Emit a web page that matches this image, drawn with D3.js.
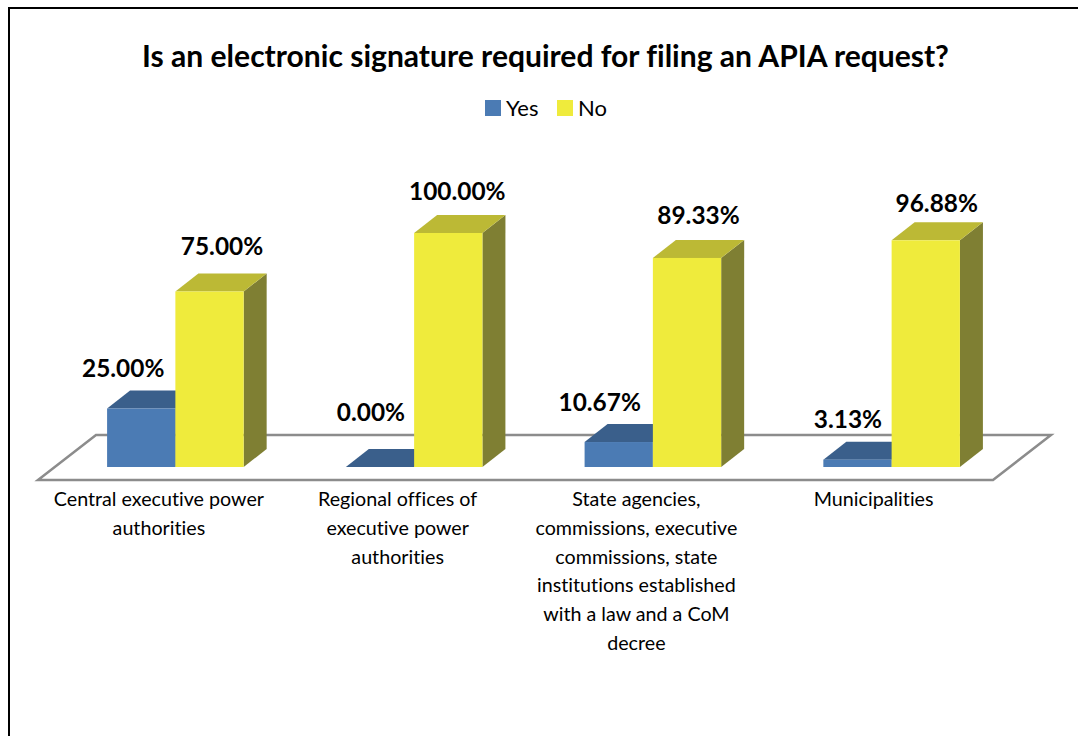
<!DOCTYPE html>
<html>
<head>
<meta charset="utf-8">
<script src="https://cdn.jsdelivr.net/npm/d3@7"></script>
<style>
    html, body { margin: 0; padding: 0; background: #fff; overflow: hidden; }
    text { font-family: Lato, "Open Sans", sans-serif; fill: #000; font-variant-ligatures: none; }
</style>
</head>
<body>
<div id="chart"></div>
<script>
var chartTitle = "Is an electronic signature required for filing an APIA request?";
var categories = ["Central executive power authorities", "Regional offices of executive power authorities", "State agencies, commissions, executive commissions, state institutions established with a law and a CoM decree", "Municipalities"];
var categoryLines = [
    ["Central executive power", "authorities"],
    ["Regional offices of", "executive power", "authorities"],
    ["State agencies,", "commissions, executive", "commissions, state", "institutions established", "with a law and a CoM", "decree"],
    ["Municipalities"]
];
var seriesNames = ["Yes", "No"];
var yesValues = [25.00, 0.00, 10.67, 3.13];
var noValues = [75.00, 100.00, 89.33, 96.88];

var width = 1078, height = 736;
var depthX = 23, depthY = 18;

var colors = {
    Yes: { front: "#4b7bb4", top: "#3a5f8b", side: "#2f4f75" },
    No: { front: "#efeb3c", top: "#bcb935", side: "#7f7f33" }
};

var svg = d3.select("#chart").append("svg")
    .attr("width", width)
    .attr("height", height);

// page border, runs off the right and bottom edge
svg.append("path")
    .attr("d", "M9,736V8H1078")
    .attr("fill", "none")
    .attr("stroke", "#000")
    .attr("stroke-width", 2);

svg.append("text")
    .attr("x", 545.5)
    .attr("y", 66.5)
    .attr("text-anchor", "middle")
    .style("font-size", "30.05px")
    .style("font-weight", 700)
    .text(chartTitle);

// legend
var legend = svg.append("g");
[485, 557].forEach(function(lx, i) {
    legend.append("rect")
        .attr("x", lx).attr("y", 100)
        .attr("width", 16).attr("height", 16)
        .attr("fill", colors[seriesNames[i]].front);
    legend.append("text")
        .attr("x", lx + 21).attr("y", 116)
        .style("font-size", "22px")
        .text(seriesNames[i]);
});

var x0 = d3.scaleBand()
    .domain(categories)
    .range([56, 1011])
    .paddingInner(0.428)
    .paddingOuter(0.214);

var x1 = d3.scaleBand()
    .domain(seriesNames)
    .range([0, x0.bandwidth()]);

var y = d3.scaleLinear()
    .domain([0, 100])
    .range([467, 233]);

// floor of the 3d plot
svg.append("path")
    .attr("d", "M38,480L993,480L1051,435L96,435Z")
    .attr("fill", "#fff")
    .attr("stroke", "#8c8c8c")
    .attr("stroke-width", 2.5)
    .attr("stroke-linejoin", "miter");

function drawBars(name, values) {
    var c = colors[name];
    var g = svg.append("g").selectAll("g")
        .data(values)
        .enter().append("g")
        .attr("transform", function(d, i) {
            return "translate(" + (x0(categories[i]) + x1(name)) + ",0)";
        });
    var w = x1.bandwidth();

    g.append("path")
        .attr("fill", c.side)
        .attr("d", function(d) {
            return "M" + w + "," + y(d) + "l" + depthX + "," + (-depthY) + "V" + (y(0) - depthY) + "L" + w + "," + y(0) + "Z";
        });
    g.append("path")
        .attr("fill", c.top)
        .attr("d", function(d) {
            return "M0," + y(d) + "l" + depthX + "," + (-depthY) + "h" + w + "l" + (-depthX) + "," + depthY + "Z";
        });
    g.append("rect")
        .attr("y", function(d) { return y(d); })
        .attr("width", w)
        .attr("height", function(d) { return y(0) - y(d); })
        .attr("fill", c.front);
}

drawBars("Yes", yesValues);
drawBars("No", noValues);

// value labels
function drawLabels(name, values, dx, dy) {
    svg.append("g").selectAll("text")
        .data(values)
        .enter().append("text")
        .attr("x", function(d, i) { return x0(categories[i]) + x1(name) + x1.bandwidth() / 2 + dx[i]; })
        .attr("y", function(d) { return y(d); })
        .attr("dy", function(d, i) { return dy[i]; })
        .attr("text-anchor", "middle")
        .style("font-size", "24.4px")
        .style("font-weight", 700)
        .text(function(d) { return d.toFixed(2) + "%"; });
}
drawLabels("Yes", yesValues, [-18, -9, -19, -9.5], [-32, -46, -31, -32]);
drawLabels("No", noValues, [12.5, 9, 11.5, 11], [-37, -33, -34, -28]);

// category labels, centred on the front edge of the floor
var labelNudge = [0, 0, 0, -1.5];
svg.append("g").selectAll("text")
    .data(categoryLines)
    .enter().append("text")
    .attr("text-anchor", "middle")
    .each(function(lines, i) {
        var cx = x0(categories[i]) + x0.bandwidth() / 2 - 16.5 + labelNudge[i];
        d3.select(this).selectAll("tspan")
            .data(lines)
            .enter().append("tspan")
            .attr("x", cx)
            .attr("y", function(d, j) { return 506 + j * 28.8; })
            .style("font-size", "19.7px")
            .text(function(d) { return d; });
    });
</script>
</body>
</html>
